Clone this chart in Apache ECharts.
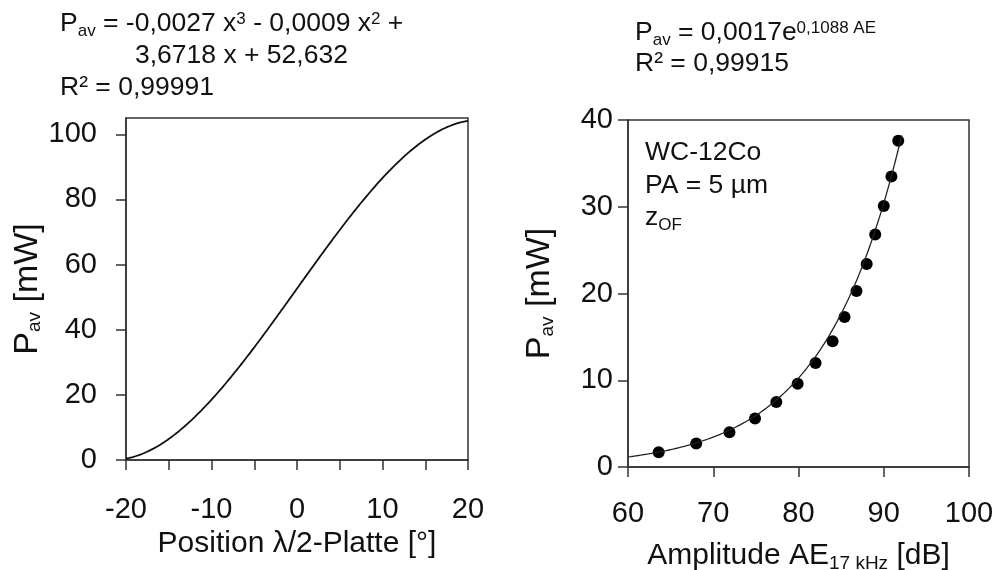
<!DOCTYPE html>
<html>
<head>
<meta charset="utf-8">
<script src="https://cdn.jsdelivr.net/npm/echarts@6/dist/echarts.min.js"></script>
<style>
  html, body { margin: 0; padding: 0; background: #fff; }
  #chart { width: 997px; height: 570px; }
</style>
</head>
<body>
<div id="chart"></div>
<script>
const FONT = '"Liberation Sans", Arial, Helvetica, sans-serif';
const INK = '#111';

// Left panel: cubic fit of average power vs. half-wave plate position
const polyCoeffs = [-0.0027, -0.0009, 3.6718, 52.632];   // x^3, x^2, x, 1
const positionAxis = [-20, 20, 10];                      // min, max, interval
const powerAxisLeft = [0, 105, 20];

// Right panel: average power vs. acoustic emission amplitude (WC-12Co)
const amplitudeDb = [63.6, 68.0, 71.9, 74.9, 77.4, 79.9, 82.0, 84.0, 85.4, 86.8, 88.0, 89.0, 90.0, 90.9, 91.7];
const powerMw     = [1.7, 2.7, 4.0, 5.6, 7.5, 9.6, 12.0, 14.5, 17.3, 20.3, 23.4, 26.8, 30.1, 33.5, 37.6];
const expCoeffs = [0.0017, 0.1088];                      // a, b in a*e^(b*AE)
const expRange = [60, 92.1];
const amplitudeAxis = [60, 100, 10];
const powerAxisRight = [0, 40, 10];

function polyCurve(c, range, step) {
  const pts = [];
  for (let x = range[0]; x <= range[1] + 1e-9; x += step) {
    pts.push([x, ((c[0] * x + c[1]) * x + c[2]) * x + c[3]]);
  }
  return pts;
}
function expCurve(c, range, step) {
  const pts = [];
  for (let x = range[0]; x <= range[1] + 1e-9; x += step) {
    pts.push([x, c[0] * Math.exp(c[1] * x)]);
  }
  return pts;
}

const richParts = {
  sub: { fontSize: 17, fontFamily: FONT, fill: INK, verticalAlign: 'bottom', padding: [12, 0, 0, 0] },
  sup: { fontSize: 17, fontFamily: FONT, fill: INK, verticalAlign: 'top', padding: [3, 0, 0, 0] }
};
function label(x, y, text) {
  return {
    type: 'text', x: x, y: y, silent: true,
    style: {
      text: text, fontSize: 26.5, fontFamily: FONT, fill: INK,
      lineHeight: 32, verticalAlign: 'top', rich: richParts
    }
  };
}

const axisLineStyle = { show: true, onZero: false, lineStyle: { color: '#333', width: 1.5 } };
const tickStyle = { show: true, length: 10, lineStyle: { color: '#333', width: 1.5 } };
const tickFont = { fontSize: 29, fontFamily: FONT, color: INK };
const nameRich = {
  sub: { fontSize: 19, fontFamily: FONT, color: INK, verticalAlign: 'bottom', padding: [15, 0, 0, 0] }
};

const chart = echarts.init(document.getElementById('chart'), null, { renderer: 'canvas' });
chart.setOption({
  animation: false,
  backgroundColor: '#fff',
  grid: [
    { left: 126, top: 118, width: 342, height: 342, show: true, borderColor: '#333', borderWidth: 1.5,
      outerBoundsMode: 'none', containLabel: false },
    { left: 628, top: 120, width: 341, height: 347, show: true, borderColor: '#333', borderWidth: 1.5,
      outerBoundsMode: 'none', containLabel: false }
  ],
  xAxis: [
    {
      gridIndex: 0, type: 'value',
      min: positionAxis[0], max: positionAxis[1], interval: positionAxis[2],
      axisLine: axisLineStyle, axisTick: tickStyle,
      minorTick: { show: true, splitNumber: 2, length: 10, lineStyle: { color: '#333', width: 1.5 } },
      splitLine: { show: false },
      axisLabel: Object.assign({ margin: 35 }, tickFont),
      name: 'Position λ/2-Platte [°]', nameLocation: 'middle', nameGap: 69,
      nameTextStyle: { fontSize: 30, fontFamily: FONT, color: INK }
    },
    {
      gridIndex: 1, type: 'value',
      min: amplitudeAxis[0], max: amplitudeAxis[1], interval: amplitudeAxis[2],
      axisLine: axisLineStyle, axisTick: tickStyle,
      splitLine: { show: false },
      axisLabel: Object.assign({ margin: 32 }, tickFont),
      name: 'Amplitude AE{sub|17 kHz} [dB]', nameLocation: 'middle', nameGap: 72,
      nameTextStyle: { fontSize: 30, fontFamily: FONT, color: INK, rich: nameRich }
    }
  ],
  yAxis: [
    {
      gridIndex: 0, type: 'value',
      min: powerAxisLeft[0], max: powerAxisLeft[1], interval: powerAxisLeft[2],
      axisLine: axisLineStyle, axisTick: tickStyle,
      splitLine: { show: false },
      axisLabel: Object.assign({ margin: 29 }, tickFont),
      name: 'P{sub|av} [mW]', nameLocation: 'middle', nameGap: 74,
      nameTextStyle: { fontSize: 34, fontFamily: FONT, color: INK, rich: nameRich }
    },
    {
      gridIndex: 1, type: 'value',
      min: powerAxisRight[0], max: powerAxisRight[1], interval: powerAxisRight[2],
      axisLine: axisLineStyle, axisTick: tickStyle,
      splitLine: { show: false },
      axisLabel: Object.assign({ margin: 15 }, tickFont),
      name: 'P{sub|av} [mW]', nameLocation: 'middle', nameGap: 71,
      nameTextStyle: { fontSize: 34, fontFamily: FONT, color: INK, rich: nameRich }
    }
  ],
  series: [
    {
      type: 'line', xAxisIndex: 0, yAxisIndex: 0,
      data: polyCurve(polyCoeffs, [positionAxis[0], positionAxis[1]], 0.2),
      showSymbol: false, smooth: false,
      lineStyle: { color: INK, width: 1.8 }
    },
    {
      type: 'line', xAxisIndex: 1, yAxisIndex: 1,
      data: expCurve(expCoeffs, expRange, 0.1),
      showSymbol: false, smooth: false,
      lineStyle: { color: '#222', width: 1.3 }
    },
    {
      type: 'scatter', xAxisIndex: 1, yAxisIndex: 1,
      data: amplitudeDb.map((v, i) => [v, powerMw[i]]),
      symbol: 'circle', symbolSize: 12,
      itemStyle: { color: '#000', opacity: 1 }
    }
  ],
  graphic: [
    label(60, 8, 'P{sub|av} = -0,0027 x{sup|3} - 0,0009 x{sup|2} +'),
    label(135, 40, '3,6718 x + 52,632'),
    label(60, 72, 'R² = 0,99991'),
    label(635, 17, 'P{sub|av} = 0,0017e{sup|0,1088 AE}'),
    label(635, 48, 'R² = 0,99915'),
    label(645, 137, 'WC-12Co'),
    label(645, 170, 'PA = 5 µm'),
    label(645, 202, 'z{sub|OF}')
  ]
});
</script>
</body>
</html>
